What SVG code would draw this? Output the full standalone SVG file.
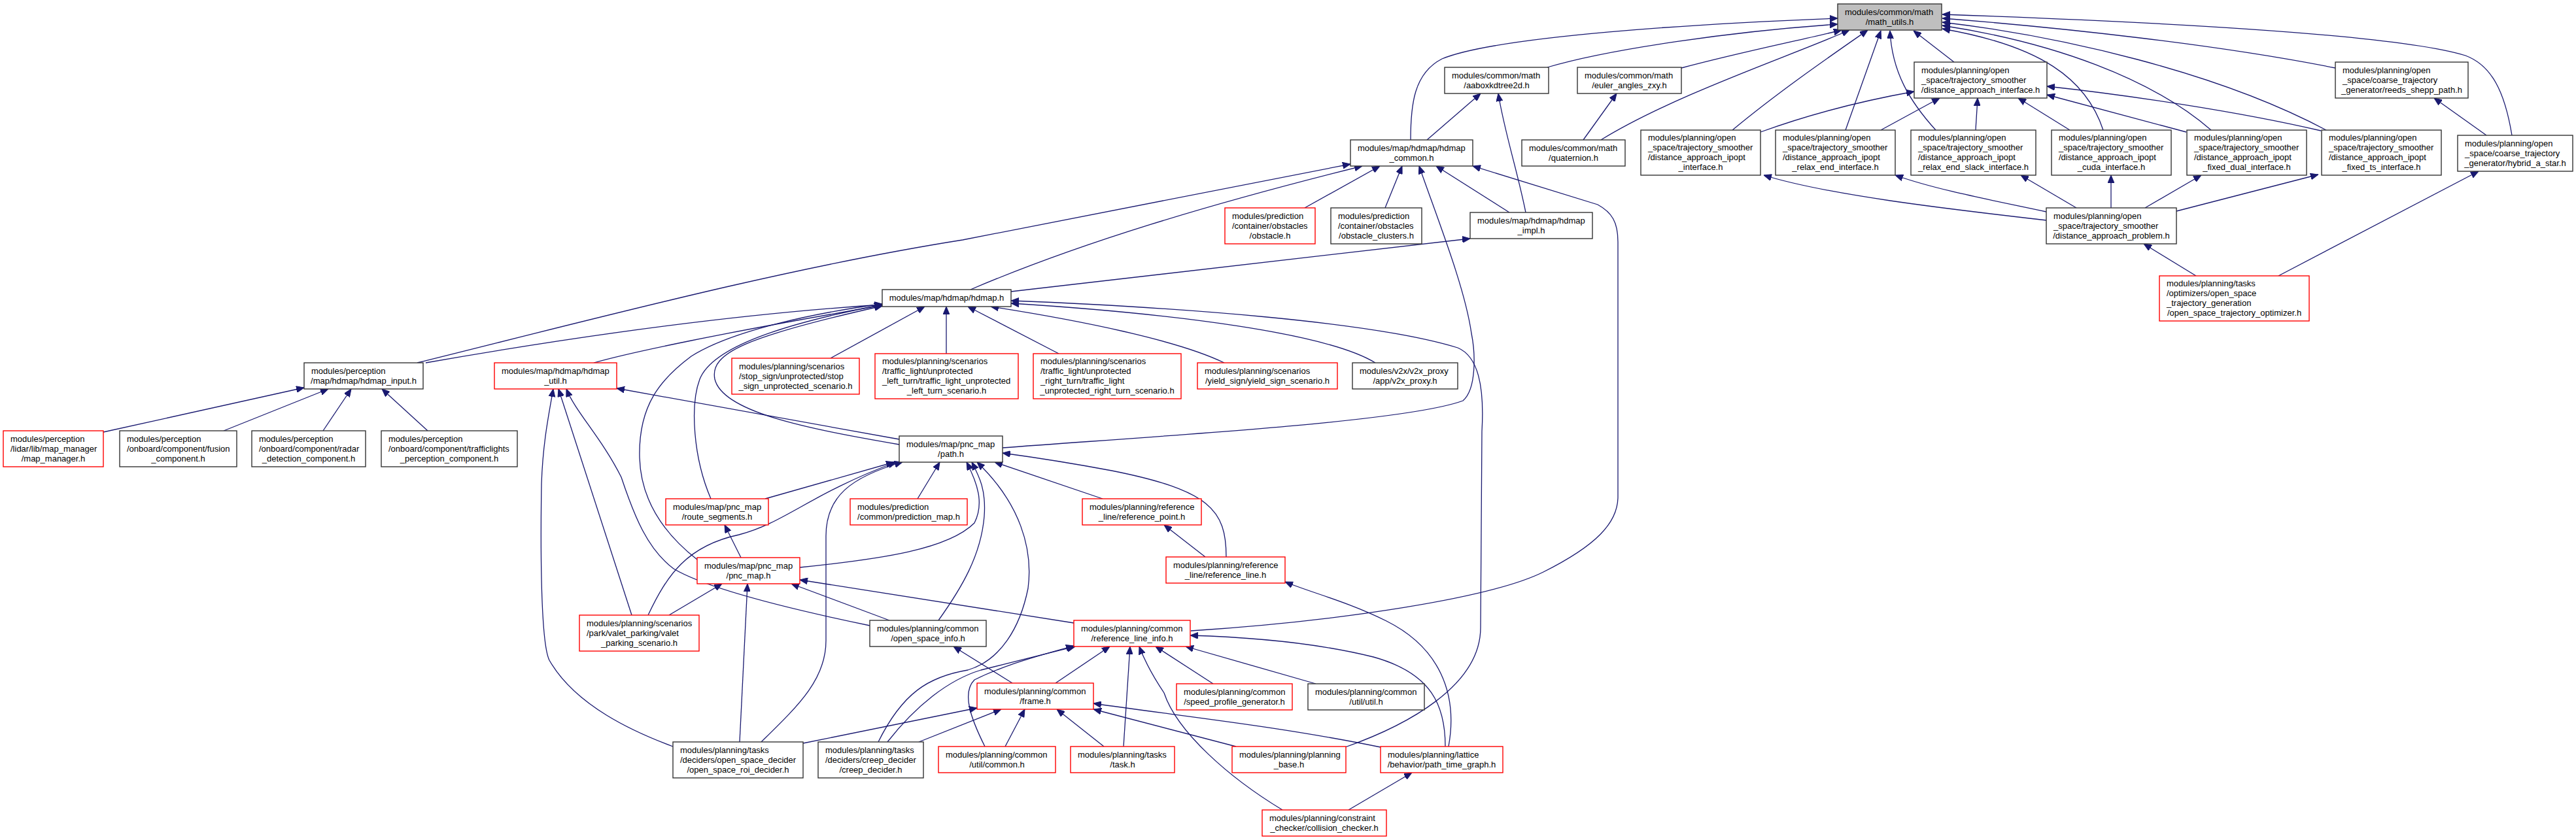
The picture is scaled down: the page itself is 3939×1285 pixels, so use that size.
<svg xmlns="http://www.w3.org/2000/svg" width="3939" height="1285" viewBox="0 0 3939 1285">
<style>
rect{fill:#fff;stroke-width:1.4}
.b{stroke:#333}
.r{stroke:#f00}
.g{fill:#bfbfbf;stroke:#333}
text{font-family:"Liberation Sans",Arial,sans-serif;font-size:13px;fill:#000}
.c{text-anchor:middle}
#edges path{fill:none;stroke:#191970;stroke-width:1.3;marker-end:url(#a)}
</style>
<defs>
<marker id="a" viewBox="0 0 12 10" refX="12" refY="5" markerWidth="12" markerHeight="10" markerUnits="userSpaceOnUse" orient="auto"><path d="M0,0L12,5L0,10z" fill="#191970" stroke="#191970"/></marker>
</defs>
<rect x="0" y="0" width="3939" height="1285" style="fill:#fff;stroke:none"/>
<g id="edges">
<path d="M2157,214 C2157,160 2162,112 2205,90 C2290,55 2600,36 2810,28"/>
<path d="M2366,103 C2460,75 2650,48 2810,37"/>
<path d="M2571,104 C2660,80 2760,60 2816,46"/>
<path d="M2448,214 C2560,145 2740,85 2828,46"/>
<path d="M2649,199 C2720,140 2800,85 2856,46"/>
<path d="M2822,199 L2876,47"/>
<path d="M2960,199 C2920,155 2893,110 2890,47"/>
<path d="M2988,95 L2926,47"/>
<path d="M3216,199 C3190,120 3120,70 2970,44"/>
<path d="M3381,199 C3290,120 3140,65 2970,39"/>
<path d="M3557,199 C3390,110 3150,55 2970,34"/>
<path d="M3571,104 C3390,68 3150,42 2970,28"/>
<path d="M3841,207 C3830,140 3810,100 3770,85 C3650,48 3200,30 2970,22"/>
<path d="M2692,202 C2780,170 2860,152 2927,140"/>
<path d="M2876,199 L2966,150"/>
<path d="M3021,199 L3024,150"/>
<path d="M3165,199 L3086,150"/>
<path d="M3343,202 L3130,145"/>
<path d="M3549,200 C3420,170 3250,145 3130,132"/>
<path d="M3129,337 C3000,322 2800,300 2697,268"/>
<path d="M3129,324 C3040,305 2960,290 2898,268"/>
<path d="M3175,318 L3090,268"/>
<path d="M3228,318 L3228,268"/>
<path d="M3280,318 L3366,268"/>
<path d="M3328,323 L3545,267"/>
<path d="M3802,207 L3722,150"/>
<path d="M3358,422 L3278,373"/>
<path d="M3484,422 L3790,262"/>
<path d="M2182,214 L2264,143"/>
<path d="M2333,325 C2320,260 2300,200 2291,143"/>
<path d="M2421,214 L2472,143"/>
<path d="M2308,325 L2196,254"/>
<path d="M638,555 C900,490 1200,410 1472,367 C1700,322 1900,282 2065,251"/>
<path d="M1484,443 C1650,372 1850,312 2083,254"/>
<path d="M1995,318 L2110,254"/>
<path d="M2118,318 L2144,254"/>
<path d="M1533,685 C1800,665 2150,645 2237,613 C2258,595 2256,540 2250,510 C2240,440 2200,340 2170,254"/>
<path d="M1821,965 C2050,950 2280,915 2360,875 C2440,835 2474,800 2474,760 L2474,370 C2474,340 2465,325 2443,313 L2252,254"/>
<path d="M1546,446 L2248,365"/>
<path d="M2057,1143 C2150,1110 2264,1050 2264,960 L2266,660 C2270,590 2260,545 2229,532 C2100,492 1800,470 1546,460"/>
<path d="M651,555 C850,520 1100,482 1349,466"/>
<path d="M908,555 C960,540 1100,510 1349,467"/>
<path d="M1270,548 L1414,469"/>
<path d="M1447,541 L1447,469"/>
<path d="M1619,541 L1480,469"/>
<path d="M1872,555 C1800,520 1650,490 1515,469"/>
<path d="M2103,555 C2030,510 1800,480 1546,464"/>
<path d="M1375,680 C1230,655 1105,630 1093,580 C1085,540 1140,515 1349,468"/>
<path d="M1087,763 C1060,700 1055,620 1070,580 C1090,530 1200,495 1349,466"/>
<path d="M1066,856 C1020,820 980,770 978,700 C976,620 1010,580 1057,545 C1120,505 1250,478 1349,465"/>
<path d="M1375,672 L943,594"/>
<path d="M1170,763 L1367,707"/>
<path d="M1133,853 L1108,803"/>
<path d="M1223,868 C1350,855 1450,840 1490,800 C1505,770 1495,740 1478,707"/>
<path d="M991,941 C1020,880 1050,835 1130,818 C1200,800 1240,755 1370,707"/>
<path d="M966,941 L854,595"/>
<path d="M1023,941 L1104,893"/>
<path d="M1029,1142 C970,1120 880,1080 840,1010 C825,980 827,800 828,740 C830,680 838,640 846,595"/>
<path d="M1164,1135 C1220,1080 1263,1040 1263,980 L1263,820 C1263,760 1300,730 1380,707"/>
<path d="M1131,1135 L1143,893"/>
<path d="M1228,1137 L1494,1083"/>
<path d="M1330,957 C1200,930 1080,900 1030,870 C990,840 970,790 950,730 C920,670 880,630 866,595"/>
<path d="M1360,949 L1210,893"/>
<path d="M1435,949 C1470,900 1500,850 1505,790 C1508,750 1498,730 1486,707"/>
<path d="M1343,1135 C1380,1060 1420,1035 1480,1025 C1530,1010 1560,960 1572,900 C1580,840 1560,770 1494,707"/>
<path d="M1357,1135 C1400,1080 1450,1040 1500,1025 C1560,1010 1600,1000 1644,989"/>
<path d="M1405,1135 L1531,1085"/>
<path d="M1403,763 L1437,707"/>
<path d="M1686,763 L1521,707"/>
<path d="M1875,852 C1875,780 1850,750 1700,720 C1620,705 1570,698 1533,693"/>
<path d="M1843,852 L1780,803"/>
<path d="M1642,953 L1223,887"/>
<path d="M1548,1045 L1458,989"/>
<path d="M1614,1045 L1697,989"/>
<path d="M1537,1142 L1567,1085"/>
<path d="M1506,1142 C1485,1100 1470,1060 1490,1040 C1540,1015 1600,1000 1642,988"/>
<path d="M1688,1142 L1616,1085"/>
<path d="M1718,1142 L1728,989"/>
<path d="M1890,1142 L1672,1085"/>
<path d="M2111,1143 C1950,1110 1800,1095 1672,1076"/>
<path d="M2210,1142 C2210,1080 2190,1030 2100,1005 C2020,985 1920,975 1820,972"/>
<path d="M2215,1142 C2230,1060 2200,990 2120,950 C2060,920 2000,905 1965,890"/>
<path d="M1961,1239 C1880,1190 1800,1120 1780,1060 C1760,1030 1750,1010 1742,989"/>
<path d="M2062,1239 L2159,1182"/>
<path d="M1855,1046 L1767,989"/>
<path d="M2012,1046 L1813,989"/>
<path d="M158,661 L465,593"/>
<path d="M342,659 L502,595"/>
<path d="M494,659 L537,595"/>
<path d="M654,659 L584,595"/>
</g>
<g id="math_utils"><rect class="g" x="2810" y="6" width="159" height="40"/><text x="2821" y="22.5">modules/common/math</text><text class="c" x="2889.5" y="37.5">/math_utils.h</text></g>
<g id="aaboxkdtree2d"><rect class="b" x="2209" y="103" width="159" height="40"/><text x="2220" y="119.5">modules/common/math</text><text class="c" x="2288.5" y="134.5">/aaboxkdtree2d.h</text></g>
<g id="euler_angles_zxy"><rect class="b" x="2412" y="103" width="159" height="40"/><text x="2423" y="119.5">modules/common/math</text><text class="c" x="2491.5" y="134.5">/euler_angles_zxy.h</text></g>
<g id="distance_approach_interface"><rect class="b" x="2927" y="95" width="203" height="55"/><text x="2938" y="111.5">modules/planning/open</text><text x="2938" y="126.5">_space/trajectory_smoother</text><text class="c" x="3028.5" y="141.5">/distance_approach_interface.h</text></g>
<g id="reeds_shepp_path"><rect class="b" x="3571" y="95" width="203" height="55"/><text x="3582" y="111.5">modules/planning/open</text><text x="3582" y="126.5">_space/coarse_trajectory</text><text class="c" x="3672.5" y="141.5">_generator/reeds_shepp_path.h</text></g>
<g id="hdmap_common"><rect class="b" x="2065" y="214" width="187" height="40"/><text x="2076" y="230.5">modules/map/hdmap/hdmap</text><text class="c" x="2158.5" y="245.5">_common.h</text></g>
<g id="quaternion"><rect class="b" x="2327" y="214" width="158" height="40"/><text x="2338" y="230.5">modules/common/math</text><text class="c" x="2406" y="245.5">/quaternion.h</text></g>
<g id="ipopt_interface"><rect class="b" x="2509" y="199" width="183" height="69"/><text x="2520" y="215">modules/planning/open</text><text x="2520" y="230">_space/trajectory_smoother</text><text x="2520" y="245">/distance_approach_ipopt</text><text class="c" x="2600.5" y="260">_interface.h</text></g>
<g id="ipopt_relax_end"><rect class="b" x="2715" y="199" width="183" height="69"/><text x="2726" y="215">modules/planning/open</text><text x="2726" y="230">_space/trajectory_smoother</text><text x="2726" y="245">/distance_approach_ipopt</text><text class="c" x="2806.5" y="260">_relax_end_interface.h</text></g>
<g id="ipopt_relax_end_slack"><rect class="b" x="2922" y="199" width="191" height="69"/><text x="2933" y="215">modules/planning/open</text><text x="2933" y="230">_space/trajectory_smoother</text><text x="2933" y="245">/distance_approach_ipopt</text><text class="c" x="3017.5" y="260">_relax_end_slack_interface.h</text></g>
<g id="ipopt_cuda"><rect class="b" x="3137" y="199" width="183" height="69"/><text x="3148" y="215">modules/planning/open</text><text x="3148" y="230">_space/trajectory_smoother</text><text x="3148" y="245">/distance_approach_ipopt</text><text class="c" x="3228.5" y="260">_cuda_interface.h</text></g>
<g id="ipopt_fixed_dual"><rect class="b" x="3344" y="199" width="183" height="69"/><text x="3355" y="215">modules/planning/open</text><text x="3355" y="230">_space/trajectory_smoother</text><text x="3355" y="245">/distance_approach_ipopt</text><text class="c" x="3435.5" y="260">_fixed_dual_interface.h</text></g>
<g id="ipopt_fixed_ts"><rect class="b" x="3550" y="199" width="183" height="69"/><text x="3561" y="215">modules/planning/open</text><text x="3561" y="230">_space/trajectory_smoother</text><text x="3561" y="245">/distance_approach_ipopt</text><text class="c" x="3641.5" y="260">_fixed_ts_interface.h</text></g>
<g id="hybrid_a_star"><rect class="b" x="3758" y="207" width="176" height="55"/><text x="3769" y="223.5">modules/planning/open</text><text x="3769" y="238.5">_space/coarse_trajectory</text><text class="c" x="3846" y="253.5">_generator/hybrid_a_star.h</text></g>
<g id="obstacle"><rect class="r" x="1873" y="318" width="138" height="55"/><text x="1884" y="334.5">modules/prediction</text><text x="1884" y="349.5">/container/obstacles</text><text class="c" x="1942" y="364.5">/obstacle.h</text></g>
<g id="obstacle_clusters"><rect class="b" x="2035" y="318" width="139" height="55"/><text x="2046" y="334.5">modules/prediction</text><text x="2046" y="349.5">/container/obstacles</text><text class="c" x="2104.5" y="364.5">/obstacle_clusters.h</text></g>
<g id="hdmap_impl"><rect class="b" x="2248" y="325" width="187" height="40"/><text x="2259" y="341.5">modules/map/hdmap/hdmap</text><text class="c" x="2341.5" y="356.5">_impl.h</text></g>
<g id="distance_approach_problem"><rect class="b" x="3129" y="318" width="199" height="55"/><text x="3140" y="334.5">modules/planning/open</text><text x="3140" y="349.5">_space/trajectory_smoother</text><text class="c" x="3228.5" y="364.5">/distance_approach_problem.h</text></g>
<g id="open_space_trajectory_optimizer"><rect class="r" x="3302" y="422" width="229" height="69"/><text x="3313" y="438">modules/planning/tasks</text><text x="3313" y="453">/optimizers/open_space</text><text x="3313" y="468">_trajectory_generation</text><text class="c" x="3416.5" y="483">/open_space_trajectory_optimizer.h</text></g>
<g id="hdmap"><rect class="b" x="1349" y="443" width="197" height="26"/><text class="c" x="1447.5" y="460">modules/map/hdmap/hdmap.h</text></g>
<g id="hdmap_input"><rect class="b" x="465" y="555" width="182" height="40"/><text x="476" y="571.5">modules/perception</text><text class="c" x="556" y="586.5">/map/hdmap/hdmap_input.h</text></g>
<g id="hdmap_util"><rect class="r" x="756" y="555" width="187" height="40"/><text x="767" y="571.5">modules/map/hdmap/hdmap</text><text class="c" x="849.5" y="586.5">_util.h</text></g>
<g id="stop_sign"><rect class="r" x="1119" y="548" width="195" height="55"/><text x="1130" y="564.5">modules/planning/scenarios</text><text x="1130" y="579.5">/stop_sign/unprotected/stop</text><text class="c" x="1216.5" y="594.5">_sign_unprotected_scenario.h</text></g>
<g id="traffic_light_left"><rect class="r" x="1338" y="541" width="219" height="69"/><text x="1349" y="557">modules/planning/scenarios</text><text x="1349" y="572">/traffic_light/unprotected</text><text x="1349" y="587">_left_turn/traffic_light_unprotected</text><text class="c" x="1447.5" y="602">_left_turn_scenario.h</text></g>
<g id="traffic_light_right"><rect class="r" x="1580" y="541" width="226" height="69"/><text x="1591" y="557">modules/planning/scenarios</text><text x="1591" y="572">/traffic_light/unprotected</text><text x="1591" y="587">_right_turn/traffic_light</text><text class="c" x="1693" y="602">_unprotected_right_turn_scenario.h</text></g>
<g id="yield_sign"><rect class="r" x="1831" y="555" width="214" height="40"/><text x="1842" y="571.5">modules/planning/scenarios</text><text class="c" x="1938" y="586.5">/yield_sign/yield_sign_scenario.h</text></g>
<g id="v2x_proxy"><rect class="b" x="2068" y="555" width="161" height="40"/><text x="2079" y="571.5">modules/v2x/v2x_proxy</text><text class="c" x="2148.5" y="586.5">/app/v2x_proxy.h</text></g>
<g id="map_manager"><rect class="r" x="5" y="659" width="153" height="55"/><text x="16" y="675.5">modules/perception</text><text x="16" y="690.5">/lidar/lib/map_manager</text><text class="c" x="81.5" y="705.5">/map_manager.h</text></g>
<g id="fusion_component"><rect class="b" x="183" y="659" width="179" height="55"/><text x="194" y="675.5">modules/perception</text><text x="194" y="690.5">/onboard/component/fusion</text><text class="c" x="272.5" y="705.5">_component.h</text></g>
<g id="radar_detection_component"><rect class="b" x="385" y="659" width="174" height="55"/><text x="396" y="675.5">modules/perception</text><text x="396" y="690.5">/onboard/component/radar</text><text class="c" x="472" y="705.5">_detection_component.h</text></g>
<g id="trafficlights_perception_component"><rect class="b" x="583" y="659" width="208" height="55"/><text x="594" y="675.5">modules/perception</text><text x="594" y="690.5">/onboard/component/trafficlights</text><text class="c" x="687" y="705.5">_perception_component.h</text></g>
<g id="path"><rect class="b" x="1375" y="667" width="158" height="40"/><text x="1386" y="683.5">modules/map/pnc_map</text><text class="c" x="1454" y="698.5">/path.h</text></g>
<g id="route_segments"><rect class="r" x="1018" y="763" width="157" height="40"/><text x="1029" y="779.5">modules/map/pnc_map</text><text class="c" x="1096.5" y="794.5">/route_segments.h</text></g>
<g id="prediction_map"><rect class="r" x="1300" y="763" width="179" height="40"/><text x="1311" y="779.5">modules/prediction</text><text class="c" x="1389.5" y="794.5">/common/prediction_map.h</text></g>
<g id="reference_point"><rect class="r" x="1655" y="763" width="182" height="40"/><text x="1666" y="779.5">modules/planning/reference</text><text class="c" x="1746" y="794.5">_line/reference_point.h</text></g>
<g id="pnc_map"><rect class="r" x="1066" y="853" width="157" height="40"/><text x="1077" y="869.5">modules/map/pnc_map</text><text class="c" x="1144.5" y="884.5">/pnc_map.h</text></g>
<g id="reference_line"><rect class="r" x="1783" y="852" width="182" height="40"/><text x="1794" y="868.5">modules/planning/reference</text><text class="c" x="1874" y="883.5">_line/reference_line.h</text></g>
<g id="valet_parking_scenario"><rect class="r" x="886" y="941" width="183" height="55"/><text x="897" y="957.5">modules/planning/scenarios</text><text x="897" y="972.5">/park/valet_parking/valet</text><text class="c" x="977.5" y="987.5">_parking_scenario.h</text></g>
<g id="open_space_info"><rect class="b" x="1330" y="949" width="178" height="40"/><text x="1341" y="965.5">modules/planning/common</text><text class="c" x="1419" y="980.5">/open_space_info.h</text></g>
<g id="reference_line_info"><rect class="r" x="1642" y="949" width="178" height="40"/><text x="1653" y="965.5">modules/planning/common</text><text class="c" x="1731" y="980.5">/reference_line_info.h</text></g>
<g id="frame"><rect class="r" x="1494" y="1045" width="178" height="40"/><text x="1505" y="1061.5">modules/planning/common</text><text class="c" x="1583" y="1076.5">/frame.h</text></g>
<g id="speed_profile_generator"><rect class="r" x="1799" y="1046" width="177" height="40"/><text x="1810" y="1062.5">modules/planning/common</text><text class="c" x="1887.5" y="1077.5">/speed_profile_generator.h</text></g>
<g id="util"><rect class="b" x="2000" y="1046" width="178" height="40"/><text x="2011" y="1062.5">modules/planning/common</text><text class="c" x="2089" y="1077.5">/util/util.h</text></g>
<g id="open_space_roi_decider"><rect class="b" x="1029" y="1135" width="199" height="55"/><text x="1040" y="1151.5">modules/planning/tasks</text><text x="1040" y="1166.5">/deciders/open_space_decider</text><text class="c" x="1128.5" y="1181.5">/open_space_roi_decider.h</text></g>
<g id="creep_decider"><rect class="b" x="1251" y="1135" width="161" height="55"/><text x="1262" y="1151.5">modules/planning/tasks</text><text x="1262" y="1166.5">/deciders/creep_decider</text><text class="c" x="1331.5" y="1181.5">/creep_decider.h</text></g>
<g id="common"><rect class="r" x="1435" y="1142" width="179" height="40"/><text x="1446" y="1158.5">modules/planning/common</text><text class="c" x="1524.5" y="1173.5">/util/common.h</text></g>
<g id="task"><rect class="r" x="1637" y="1142" width="159" height="40"/><text x="1648" y="1158.5">modules/planning/tasks</text><text class="c" x="1716.5" y="1173.5">/task.h</text></g>
<g id="planning_base"><rect class="r" x="1884" y="1142" width="174" height="40"/><text x="1895" y="1158.5">modules/planning/planning</text><text class="c" x="1971" y="1173.5">_base.h</text></g>
<g id="path_time_graph"><rect class="r" x="2111" y="1142" width="187" height="40"/><text x="2122" y="1158.5">modules/planning/lattice</text><text class="c" x="2204.5" y="1173.5">/behavior/path_time_graph.h</text></g>
<g id="collision_checker"><rect class="r" x="1930" y="1239" width="190" height="40"/><text x="1941" y="1255.5">modules/planning/constraint</text><text class="c" x="2025" y="1270.5">_checker/collision_checker.h</text></g>
</svg>
